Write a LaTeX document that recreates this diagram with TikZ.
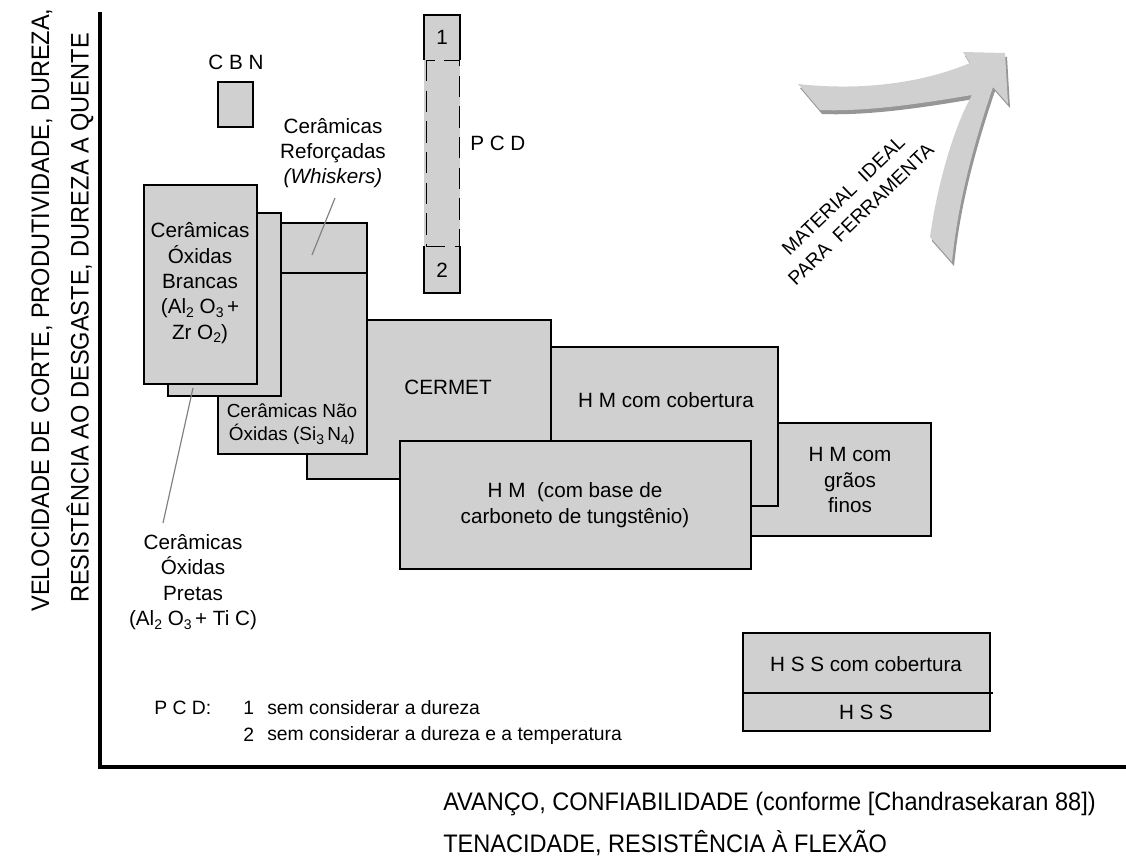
\documentclass[tikz,border=0pt]{standalone}
\usepackage{fontspec}
\setmainfont{Liberation Sans}
\usetikzlibrary{fit}
\definecolor{boxgray}{RGB}{208,208,208}
\definecolor{shadegray}{RGB}{150,150,150}
\definecolor{leadergray}{RGB}{130,130,130}
\newcommand{\lsub}[1]{\raisebox{-0.35ex}{\fontsize{10.5}{10.5}\selectfont #1}}
\newcommand{\boxfont}{\fontsize{15.5}{19}\selectfont}
\newcommand{\notefont}{\fontsize{14.5}{18}\selectfont}
\newcommand{\axisfont}{\fontsize{19}{23}\selectfont}
\begin{document}
\begin{tikzpicture}[x=0.75pt,y=-0.75pt,
  matbox/.style={draw=black,line width=1.4pt,fill=boxgray,inner sep=0pt},
  txt/.style={font=\boxfont,align=center,inner sep=0pt},
  note/.style={font=\notefont,anchor=west,inner sep=0pt},
  leader/.style={draw=leadergray,line width=0.9pt},
  axis/.style={line width=2.4pt},
  axislbl/.style={font=\axisfont,inner sep=0pt}]
\useasboundingbox (0,0) rectangle (1126,857);

% --- axes ---
\coordinate (origin) at (100,767);
\coordinate (ytop) at (100,12);
\coordinate (xend) at (1126,767);
\draw[axis] (ytop) -- (origin) -- (xend);
\node[axislbl,rotate=90] (ylbl1) at (42,310) {\scalebox{0.93}[1]{VELOCIDADE DE CORTE, PRODUTIVIDADE, DUREZA,}};
\node[axislbl,rotate=90] (ylbl2) at (80,318) {\scalebox{0.93}[1]{RESISTÊNCIA AO DESGASTE, DUREZA A QUENTE}};
\node[axislbl,anchor=west] (xlbl1) at (443,804) {\scalebox{0.93}[1]{AVANÇO, CONFIABILIDADE (conforme [Chandrasekaran 88])}};
\node[axislbl,anchor=west] (xlbl2) at (443,843) {\scalebox{0.93}[1]{TENACIDADE, RESISTÊNCIA À FLEXÃO}};

% --- CBN ---
\node[txt] (cbnlbl) at (236,62) {C B N};
\node[matbox,fit={(218,82) (253,127)}] (cbn) {};

% --- PCD column ---
\coordinate (pcdA) at (424,15);
\coordinate (pcdB) at (460,293);
\fill[boxgray] (pcdA) rectangle (pcdB);
\draw[line width=1.4pt] (424,60) -- (424,15) -- (460,15) -- (460,60);
\draw[line width=1.4pt] (424,246) -- (424,293) -- (460,293) -- (460,246);
\draw[line width=0.7pt,dash pattern=on 16pt off 7pt] (426,60) rectangle (459,246);
\node[txt] (pcd1) at (442,37) {1};
\node[txt] (pcd2) at (442,270) {2};
\node[txt,anchor=west] (pcdlbl) at (470,143) {P C D};

% --- hard metals and cermet (back to front) ---
\node[matbox,fit={(700,423) (931,536)}] (hmfine) {};
\node[txt] (hmfinelbl) at (850,480) {H M com\\grãos\\finos};
\node[matbox,fit={(550,347) (778,506)}] (hmcoat) {};
\node[txt] (hmcoatlbl) at (666,400) {H M com cobertura};
\node[matbox,fit={(307,320) (551,479)}] (cermet) {};
\node[txt] (cermetlbl) at (448,387) {CERMET};

% --- ceramics ---
\node[matbox,fit={(218,273) (367,454)}] (nonox) {};
\node[txt,font=\fontsize{14.2}{17.5}\selectfont] (nonoxlbl) at (292,424) {Cerâmicas Não\\Óxidas (Si\lsub{3}\,N\lsub{4})};
\node[matbox,fit={(281,223) (367,273)}] (whisk) {};
\node[matbox,fit={(168,213) (281,396)}] (black) {};
\node[matbox,fit={(144,185) (257,384)}] (white) {};
\node[txt] (whitelbl) at (200,283) {Cerâmicas\\Óxidas\\Brancas\\(Al\lsub{2} O\lsub{3}\,+\\Zr O\lsub{2})};

% --- tungsten carbide base ---
\node[matbox,fit={(400,441) (751,569)}] (hm) {};
\node[txt] (hmlbl) at (575,505) {H M\ \ (com base de\\carboneto de tungstênio)};

% --- labels outside the boxes with leaders ---
\node[txt] (whisklbl) at (333,153) {Cerâmicas\\Reforçadas\\\textit{(Whiskers)}};
\coordinate (whiskA) at (335,198);
\coordinate (whiskB) at (312,255);
\draw[leader] (whiskA) -- (whiskB);
\node[txt] (blacklbl) at (193,582) {Cerâmicas\\Óxidas\\Pretas\\(Al\lsub{2} O\lsub{3}\,+ Ti C)};
\coordinate (blackA) at (163,523);
\coordinate (blackB) at (193,388);
\draw[leader] (blackA) -- (blackB);

% --- HSS ---
\node[matbox,fit={(743,633) (990,731)}] (hss) {};
\coordinate (hssL) at (743,693);
\coordinate (hssR) at (993,693);
\draw[line width=1.1pt] (hssL) -- (hssR);
\node[txt] (hsscoatlbl) at (866,664) {H S S com cobertura};
\node[txt] (hsslbl) at (866,712) {H S S};

% --- PCD notes ---
\node[note] (note0) at (154,708) {P C D:};
\node[note] (note1n) at (243,708) {1};
\node[note] (note1) at (267,708) {sem considerar a dureza};
\node[note] (note2n) at (243,735) {2};
\node[note] (note2) at (267,735) {sem considerar a dureza e a temperatura};

% --- ideal tool material arrow ---
\def\idealarrow{(798,84) .. controls (870,92) and (930,80) .. (970,63) -- (963,52) -- (1005,53) -- (1008,104) -- (993,87) .. controls (975,140) and (958,200) .. (952,262) -- (930,237) .. controls (938,180) and (955,125) .. (972,95) .. controls (930,102) and (870,112) .. (820,110) -- cycle}
\fill[shadegray,shift={(2,4)}] \idealarrow;
\fill[boxgray] \idealarrow;
\node[txt,rotate=44,font=\fontsize{14.5}{19}\selectfont] (ideallbl) at (852,205) {MATERIAL\ \ IDEAL\\PARA\ \ FERRAMENTA};
\end{tikzpicture}
\end{document}
